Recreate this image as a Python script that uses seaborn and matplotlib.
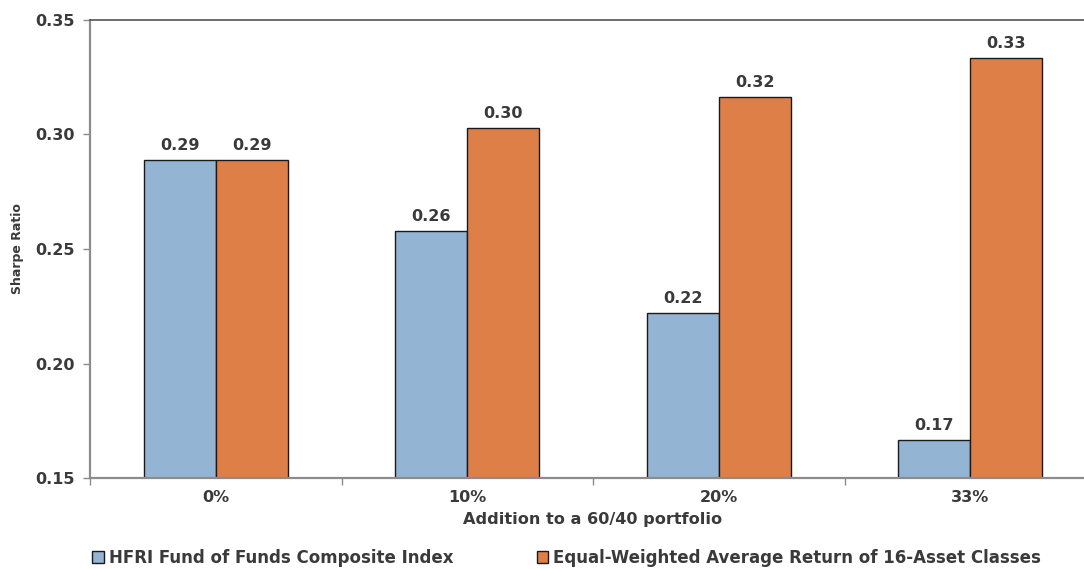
import matplotlib
matplotlib.use("Agg")
import matplotlib.pyplot as plt
from matplotlib.patches import Patch
from matplotlib.ticker import FixedLocator, MultipleLocator, FormatStrFormatter
import seaborn as sns
import pandas as pd

# Sharpe ratio of a 60/40 portfolio as an allocation is added
allocations = ["0%", "10%", "20%", "33%"]
hfri_fof = [0.2889, 0.2579, 0.2221, 0.1666]
equal_weighted = [0.2889, 0.3028, 0.3164, 0.3334]
series_names = ["HFRI Fund of Funds Composite Index",
                "Equal-Weighted Average Return of 16-Asset Classes"]
colors = ["#93B4D3", "#DE7F48"]

df = pd.DataFrame({
    "allocation": allocations * 2,
    "sharpe": hfri_fof + equal_weighted,
    "series": [series_names[0]] * len(allocations) + [series_names[1]] * len(allocations),
})

sns.set_theme(style="white")
plt.rcParams["font.family"] = ["DejaVu Sans"]
plt.rcParams["font.weight"] = "bold"
text_color = "#3a3a3a"

fig = plt.figure(figsize=(10.84, 5.69), dpi=100)
ax = fig.add_axes([90 / 1084, 91 / 569, 1006 / 1084, 458 / 569])

sns.barplot(data=df, x="allocation", y="sharpe", hue="series",
            palette=colors, width=0.573, edgecolor="#1a1a1a", linewidth=1.0,
            saturation=1, legend=False, ax=ax)

for cont in ax.containers:
    ax.bar_label(cont, fmt="%.2f", padding=5, fontsize=11.5,
                 fontweight="bold", color=text_color)

ax.set_ylim(0.15, 0.35)
ax.set_xlim(-0.5, 3.5)
ax.yaxis.set_major_locator(MultipleLocator(0.05))
ax.yaxis.set_major_formatter(FormatStrFormatter("%.2f"))
ax.xaxis.set_minor_locator(FixedLocator([-0.5, 0.5, 1.5, 2.5, 3.5]))

ax.tick_params(axis="y", which="major", length=5, width=1, color="#8c8c8c",
               labelsize=11.5, labelcolor=text_color, pad=6, left=True)
ax.tick_params(axis="x", which="major", length=0, labelsize=11.5,
               labelcolor=text_color, pad=9)
ax.tick_params(axis="x", which="minor", length=5, width=1, color="#8c8c8c",
               bottom=True)
for lab in ax.get_xticklabels() + ax.get_yticklabels():
    lab.set_fontweight("bold")

ax.set_xlabel("Addition to a 60/40 portfolio", fontsize=11.6, fontweight="bold",
              color=text_color, labelpad=5)
ax.set_ylabel("Sharpe Ratio", fontsize=9, fontweight="bold", color=text_color,
              labelpad=8)

for side in ("left", "bottom"):
    ax.spines[side].set_color("#8c8c8c")
    ax.spines[side].set_linewidth(1.6)
ax.spines["top"].set_color("#555555")
ax.spines["top"].set_linewidth(1.2)
ax.spines["right"].set_visible(False)

handles = [Patch(facecolor=c, edgecolor="#1a1a1a", linewidth=1.0) for c in colors]
leg = fig.legend(handles, series_names, loc="center left",
                 bbox_to_anchor=(92 / 1084, 1 - 558 / 569), ncol=2, frameon=False,
                 handlelength=0.7, handleheight=0.7, handletextpad=0.3,
                 columnspacing=5.0, borderaxespad=0, borderpad=0,
                 prop={"size": 12, "weight": "bold"})
for t in leg.get_texts():
    t.set_color(text_color)

fig.savefig("out.png", dpi=100)
